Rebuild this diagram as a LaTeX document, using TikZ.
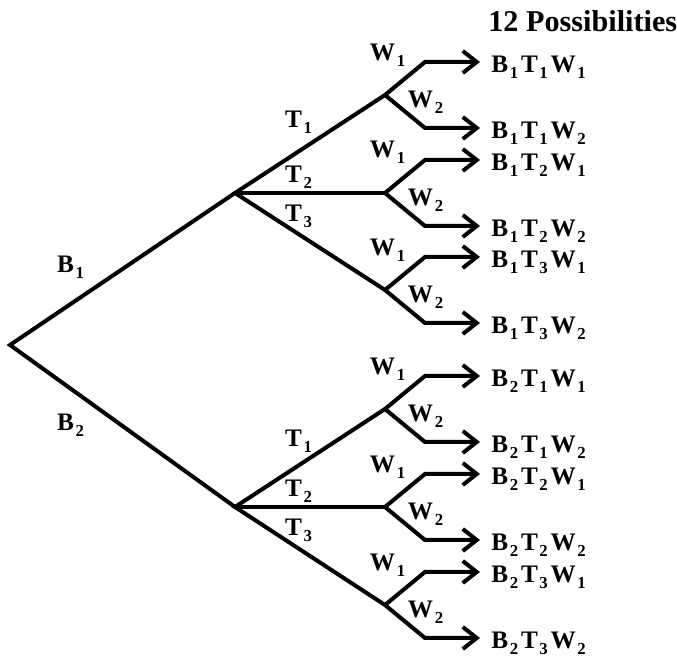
\documentclass[tikz,border=0pt]{standalone}
\usepackage{fontspec}
\setmainfont{Liberation Serif}
\usetikzlibrary{arrows.meta}
\newcommand{\lowidx}[1]{\kern0.8pt\raisebox{-2.9pt}{\fontsize{8.4}{8.4}\selectfont#1}\kern1.4pt}
\tikzset{
  edge/.style={line width=2pt,line join=miter},
  arr/.style={edge,-{Straight Barb[length=7pt,width=11pt]}},
  lab/.style={font=\fontsize{12.6}{13}\selectfont\bfseries,inner sep=0pt},
  res/.style={lab,anchor=base west,xshift=5.5pt,yshift=-5.2pt},
  capt/.style={font=\fontsize{15.1}{16}\selectfont\bfseries,anchor=base west,inner sep=0pt},
}
\begin{document}
\begin{tikzpicture}[x=0.5pt,y=0.5pt]
  \useasboundingbox (0,0) rectangle (677,-656);
  % branch points
  \coordinate (root) at (10,-345);
  \coordinate (b1) at (235,-193);
  \coordinate (b2) at (235,-507);
  \coordinate (t11) at (385,-95);
  \coordinate (t12) at (385,-193);
  \coordinate (t13) at (385,-290);
  \coordinate (t21) at (385,-409);
  \coordinate (t22) at (385,-507);
  \coordinate (t23) at (385,-605);
  % knees and tips of the arrows
  \coordinate (k111) at (425,-62);  \coordinate (e111) at (480,-62);
  \coordinate (k112) at (425,-128); \coordinate (e112) at (480,-128);
  \coordinate (k121) at (425,-160); \coordinate (e121) at (480,-160);
  \coordinate (k122) at (425,-226); \coordinate (e122) at (480,-226);
  \coordinate (k131) at (425,-257); \coordinate (e131) at (480,-257);
  \coordinate (k132) at (425,-323); \coordinate (e132) at (480,-323);
  \coordinate (k211) at (425,-376); \coordinate (e211) at (480,-376);
  \coordinate (k212) at (425,-442); \coordinate (e212) at (480,-442);
  \coordinate (k221) at (425,-474); \coordinate (e221) at (480,-474);
  \coordinate (k222) at (425,-540); \coordinate (e222) at (480,-540);
  \coordinate (k231) at (425,-572); \coordinate (e231) at (480,-572);
  \coordinate (k232) at (425,-638); \coordinate (e232) at (480,-638);
  % tree
  \draw[edge] (b1) -- (root) -- (b2);
  \draw[edge] (t11) -- (b1) -- (t13);
  \draw[edge] (b1) -- (t12);
  \draw[edge] (t21) -- (b2) -- (t23);
  \draw[edge] (b2) -- (t22);
  \draw[arr] (t11) -- (k111) -- (e111);
  \draw[arr] (t11) -- (k112) -- (e112);
  \draw[arr] (t12) -- (k121) -- (e121);
  \draw[arr] (t12) -- (k122) -- (e122);
  \draw[arr] (t13) -- (k131) -- (e131);
  \draw[arr] (t13) -- (k132) -- (e132);
  \draw[arr] (t21) -- (k211) -- (e211);
  \draw[arr] (t21) -- (k212) -- (e212);
  \draw[arr] (t22) -- (k221) -- (e221);
  \draw[arr] (t22) -- (k222) -- (e222);
  \draw[arr] (t23) -- (k231) -- (e231);
  \draw[arr] (t23) -- (k232) -- (e232);
  % branch labels
  \node[lab] (lb1) at (72,-267) {B\lowidx{1}};
  \node[lab] (lb2) at (72,-425) {B\lowidx{2}};
  \node[lab] (lt11) at (300,-122) {T\lowidx{1}};
  \node[lab] (lt12) at (300,-177) {T\lowidx{2}};
  \node[lab] (lt13) at (300,-216) {T\lowidx{3}};
  \node[lab] (lt21) at (300,-441) {T\lowidx{1}};
  \node[lab] (lt22) at (300,-491) {T\lowidx{2}};
  \node[lab] (lt23) at (300,-530) {T\lowidx{3}};
  \node[lab] (lw111) at (389,-55) {W\lowidx{1}};
  \node[lab] (lw112) at (427,-102) {W\lowidx{2}};
  \node[lab] (lw121) at (389,-152) {W\lowidx{1}};
  \node[lab] (lw122) at (427,-200) {W\lowidx{2}};
  \node[lab] (lw131) at (389,-250) {W\lowidx{1}};
  \node[lab] (lw132) at (427,-297) {W\lowidx{2}};
  \node[lab] (lw211) at (389,-369) {W\lowidx{1}};
  \node[lab] (lw212) at (427,-416) {W\lowidx{2}};
  \node[lab] (lw221) at (389,-467) {W\lowidx{1}};
  \node[lab] (lw222) at (427,-514) {W\lowidx{2}};
  \node[lab] (lw231) at (389,-565) {W\lowidx{1}};
  \node[lab] (lw232) at (427,-612) {W\lowidx{2}};
  % outcomes
  \node[capt] (head) at (488,-32) {12 Possibilities};
  \node[res] (r111) at (e111) {B\lowidx{1}T\lowidx{1}W\lowidx{1}};
  \node[res] (r112) at (e112) {B\lowidx{1}T\lowidx{1}W\lowidx{2}};
  \node[res] (r121) at (e121) {B\lowidx{1}T\lowidx{2}W\lowidx{1}};
  \node[res] (r122) at (e122) {B\lowidx{1}T\lowidx{2}W\lowidx{2}};
  \node[res] (r131) at (e131) {B\lowidx{1}T\lowidx{3}W\lowidx{1}};
  \node[res] (r132) at (e132) {B\lowidx{1}T\lowidx{3}W\lowidx{2}};
  \node[res] (r211) at (e211) {B\lowidx{2}T\lowidx{1}W\lowidx{1}};
  \node[res] (r212) at (e212) {B\lowidx{2}T\lowidx{1}W\lowidx{2}};
  \node[res] (r221) at (e221) {B\lowidx{2}T\lowidx{2}W\lowidx{1}};
  \node[res] (r222) at (e222) {B\lowidx{2}T\lowidx{2}W\lowidx{2}};
  \node[res] (r231) at (e231) {B\lowidx{2}T\lowidx{3}W\lowidx{1}};
  \node[res] (r232) at (e232) {B\lowidx{2}T\lowidx{3}W\lowidx{2}};
\end{tikzpicture}
\end{document}
